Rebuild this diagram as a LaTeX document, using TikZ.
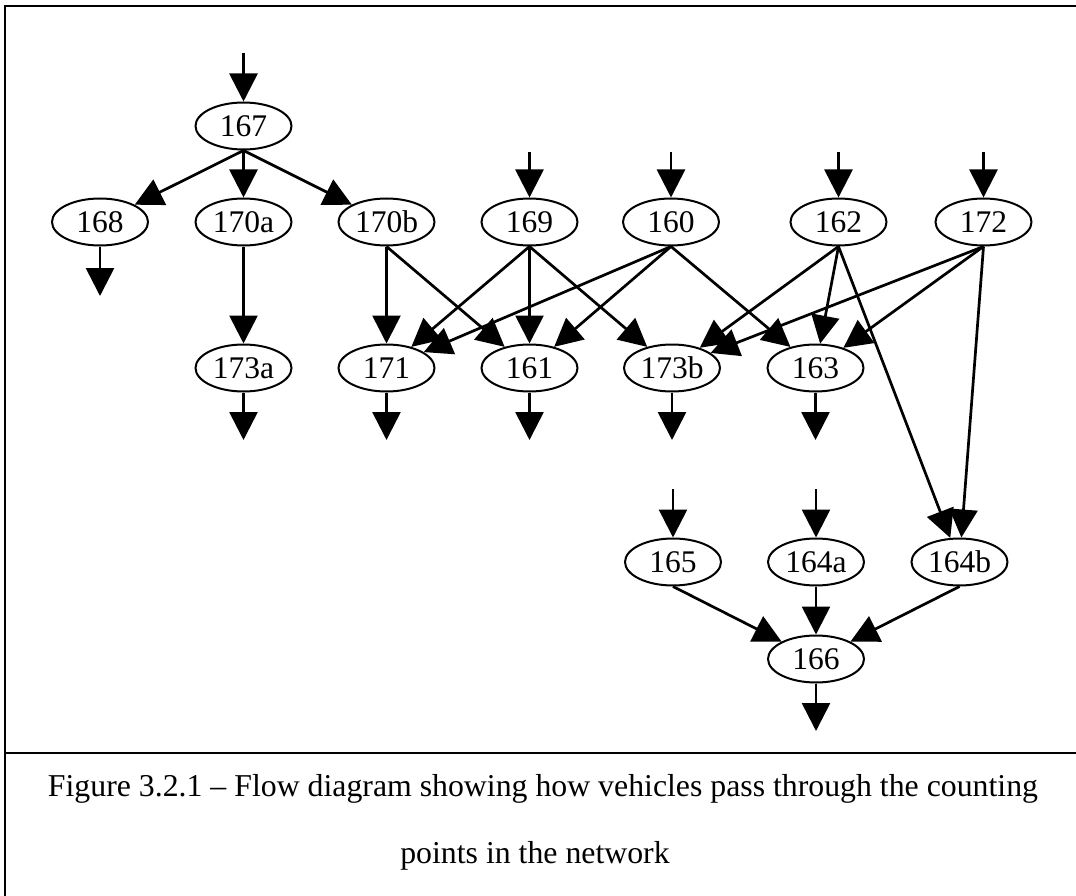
\documentclass[tikz,border=0pt]{standalone}
\usepackage{fontspec}
\setmainfont{Liberation Serif}
\usetikzlibrary{arrows.meta,shapes.geometric}

\begin{document}
\begin{tikzpicture}[x=1pt,y=-1pt,
  cpoint/.style={ellipse, draw, line width=2pt, minimum width=96pt, minimum height=47pt,
    inner sep=0pt, font=\fontsize{31.5}{36}\selectfont},
  flow/.style={line width=2.7pt, -{Triangle[length=28pt,width=28pt]}},
  frame/.style={line width=2pt},
  caption/.style={anchor=base, inner sep=0pt, font=\fontsize{31.8}{38}\selectfont}]

\useasboundingbox (0,0) rectangle (1076,896);

% frame around figure and caption
\draw[frame] (5,896) -- (5,6) -- (1076,6);
\draw[frame] (5,753) -- (1076,753);

% counting points
\node[cpoint] (n167)  at (243.5,126) {167};
\node[cpoint] (n168)  at (100,222)   {168};
\node[cpoint] (n170a) at (243.5,222) {170a};
\node[cpoint] (n170b) at (386.5,222) {170b};
\node[cpoint] (n169)  at (529.5,222) {169};
\node[cpoint] (n160)  at (671,222)   {160};
\node[cpoint] (n162)  at (838.5,222) {162};
\node[cpoint] (n172)  at (983.5,222) {172};
\node[cpoint] (n173a) at (243.5,368) {173a};
\node[cpoint] (n171)  at (386.5,368) {171};
\node[cpoint] (n161)  at (529.5,368) {161};
\node[cpoint] (n173b) at (672,368)   {173b};
\node[cpoint] (n163)  at (815.5,368) {163};
\node[cpoint] (n165)  at (673,562)   {165};
\node[cpoint] (n164a) at (816,562)   {164a};
\node[cpoint] (n164b) at (959.5,562) {164b};
\node[cpoint] (n166)  at (816,659)   {166};

% entry points
\coordinate (i167)  at (243.5,53);
\coordinate (i169)  at (529.5,152);
\coordinate (i160)  at (671,152);
\coordinate (i162)  at (838.5,152);
\coordinate (i172)  at (983.5,152);
\coordinate (i165)  at (673,489);
\coordinate (i164a) at (816,489);

% exit points
\coordinate (o168)  at (100,296);
\coordinate (o173a) at (243.5,440);
\coordinate (o171)  at (386.5,440);
\coordinate (o161)  at (529.5,440);
\coordinate (o173b) at (672,440);
\coordinate (o163)  at (815.5,440);
\coordinate (o166)  at (816,731);

% inflows
\foreach \n in {167,169,160,162,172,165,164a}
  \draw[flow] (i\n) -- (n\n);

% outflows
\foreach \n in {168,173a,171,161,173b,163,166}
  \draw[flow] (n\n) -- (o\n);

% movements between counting points
\foreach \a/\b in {167/168,167/170a,167/170b,170a/173a,
                   170b/171,170b/161,
                   169/171,169/161,169/173b,
                   160/171,160/161,160/163,
                   162/173b,162/163,162/164b,
                   172/173b,172/163,172/164b,
                   165/166,164a/166,164b/166}
  \draw[flow] (n\a.south) -- (n\b);

% caption
\node[caption] (cap1) at (543,796) {Figure 3.2.1 -- Flow diagram showing how vehicles pass through the counting};
\node[caption] (cap2) at (535,863) {points in the network};
\end{tikzpicture}
\end{document}
